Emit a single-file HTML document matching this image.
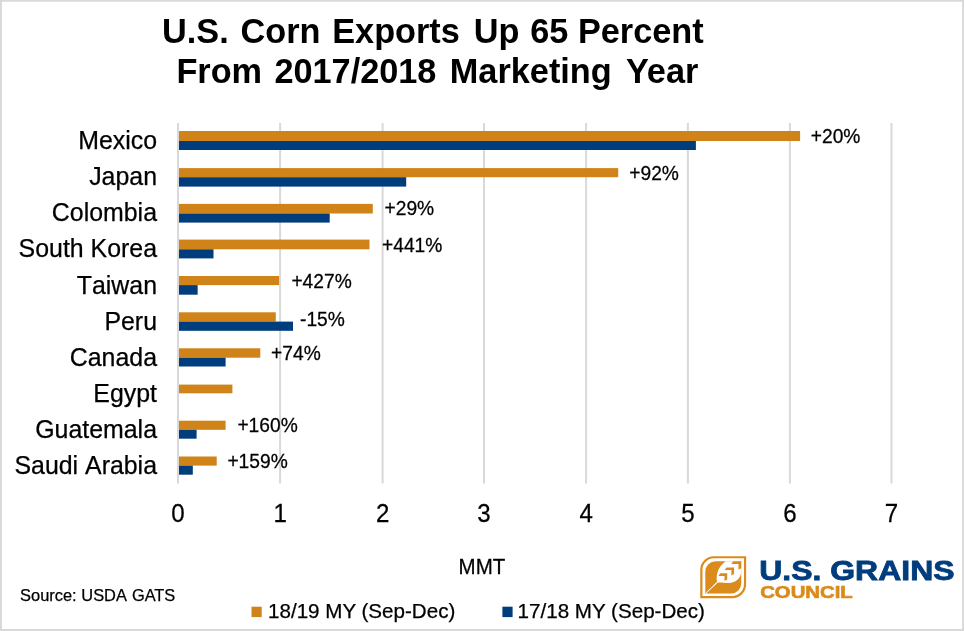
<!DOCTYPE html>
<html lang="en"><head><meta charset="utf-8"><title>U.S. Corn Exports Up 65 Percent</title>
<style>html,body{margin:0;padding:0;background:#fff}body{width:964px;height:631px;overflow:hidden}svg{display:block}text{font-family:"Liberation Sans",Arial,sans-serif;fill:#000}.nk text{font-kerning:none}.r text,text.r{stroke:#000;stroke-width:.25px}</style>
</head><body>
<svg width="964" height="631" viewBox="0 0 964 631">
<rect x="0" y="0" width="964" height="631" fill="#fff"/>
<path d="M0 0H964V631H0Z M1.9 1.7V628.9H962.1V1.7Z" fill="#D9D9D9" fill-rule="evenodd"/>
<g font-weight="bold" font-size="34.3px" transform="scale(1 1.03)">
<text y="41.75"><tspan x="162.00">U.S. </tspan><tspan x="240.50">Corn </tspan><tspan x="332.20">Exports </tspan><tspan x="473.70">Up </tspan><tspan x="530.20">65 </tspan><tspan x="577.90">Percent </tspan></text>
<text y="80.5"><tspan x="176.40">From </tspan><tspan x="274.40">2017/2018 </tspan><tspan x="449.80">Marketing </tspan><tspan x="625.90">Year </tspan></text>
</g>
<g stroke="#D9D9D9" stroke-width="2">
<line x1="178.00" y1="123" x2="178.00" y2="483.5"/>
<line x1="280.10" y1="123" x2="280.10" y2="483.5"/>
<line x1="382.60" y1="123" x2="382.60" y2="483.5"/>
<line x1="484.00" y1="123" x2="484.00" y2="483.5"/>
<line x1="586.10" y1="123" x2="586.10" y2="483.5"/>
<line x1="687.90" y1="123" x2="687.90" y2="483.5"/>
<line x1="789.90" y1="123" x2="789.90" y2="483.5"/>
<line x1="891.50" y1="123" x2="891.50" y2="483.5"/>
</g>
<g>
<rect x="179" y="131.00" width="621.10" height="10.00" fill="#D08318"/>
<rect x="179" y="141.00" width="516.90" height="9.00" fill="#003D7D"/>
<rect x="179" y="168.10" width="439.20" height="9.10" fill="#D08318"/>
<rect x="179" y="177.20" width="227.20" height="9.40" fill="#003D7D"/>
<rect x="179" y="203.90" width="193.80" height="9.60" fill="#D08318"/>
<rect x="179" y="213.50" width="150.70" height="9.10" fill="#003D7D"/>
<rect x="179" y="239.60" width="190.50" height="9.70" fill="#D08318"/>
<rect x="179" y="249.30" width="34.50" height="9.10" fill="#003D7D"/>
<rect x="179" y="276.00" width="100.10" height="9.10" fill="#D08318"/>
<rect x="179" y="285.10" width="18.65" height="9.60" fill="#003D7D"/>
<rect x="179" y="312.30" width="96.80" height="9.30" fill="#D08318"/>
<rect x="179" y="321.60" width="114.00" height="9.20" fill="#003D7D"/>
<rect x="179" y="348.30" width="81.30" height="9.40" fill="#D08318"/>
<rect x="179" y="357.70" width="46.60" height="8.80" fill="#003D7D"/>
<rect x="179" y="384.60" width="53.40" height="8.70" fill="#D08318"/>
<rect x="179" y="420.70" width="46.60" height="9.10" fill="#D08318"/>
<rect x="179" y="429.80" width="17.60" height="8.90" fill="#003D7D"/>
<rect x="179" y="456.50" width="37.70" height="9.10" fill="#D08318"/>
<rect x="179" y="465.60" width="13.80" height="9.10" fill="#003D7D"/>
</g>
<g class="nk r" font-size="24.9px" text-anchor="end">
<text x="157.0" y="149.20">Mexico</text>
<text x="157.0" y="185.28">Japan</text>
<text x="157.0" y="221.36">Colombia</text>
<text x="157.0" y="257.44">South Korea</text>
<text x="157.0" y="293.52">Taiwan</text>
<text x="157.0" y="329.60">Peru</text>
<text x="157.0" y="365.68">Canada</text>
<text x="157.0" y="401.76">Egypt</text>
<text x="157.0" y="437.84">Guatemala</text>
<text x="157.0" y="473.92">Saudi Arabia</text>
</g>
<g class="nk r" font-size="19.2px">
<text transform="translate(810.80 142.90) scale(1 1.04)">+20%</text>
<text transform="translate(629.30 179.50) scale(1 1.04)">+92%</text>
<text transform="translate(384.50 215.30) scale(1 1.04)">+29%</text>
<text transform="translate(382.00 251.50) scale(1 1.04)">+441%</text>
<text transform="translate(291.40 287.90) scale(1 1.04)">+427%</text>
<text transform="translate(300.00 326.30) scale(1 1.04)">-15%</text>
<text transform="translate(271.10 360.10) scale(1 1.04)">+74%</text>
<text transform="translate(237.40 432.00) scale(1 1.04)">+160%</text>
<text transform="translate(227.40 467.90) scale(1 1.04)">+159%</text>
</g>
<g class="nk r" font-size="24.1px" text-anchor="middle">
<text transform="translate(178.00 521.9) scale(1 1.035)">0</text>
<text transform="translate(280.10 521.9) scale(1 1.035)">1</text>
<text transform="translate(382.60 521.9) scale(1 1.035)">2</text>
<text transform="translate(484.00 521.9) scale(1 1.035)">3</text>
<text transform="translate(586.10 521.9) scale(1 1.035)">4</text>
<text transform="translate(687.90 521.9) scale(1 1.035)">5</text>
<text transform="translate(789.90 521.9) scale(1 1.035)">6</text>
<text transform="translate(891.50 521.9) scale(1 1.035)">7</text>
</g>
<text class="r" transform="translate(481.9 574.1) scale(1 1.045)" font-size="20.5px" text-anchor="middle">MMT</text>
<text class="r" y="601" font-size="16.4px"><tspan x="20.1">Source: </tspan><tspan x="81.3">USDA </tspan><tspan x="131.9">GATS</tspan></text>
<rect x="251.5" y="606.7" width="10.2" height="10.4" fill="#D08318"/>
<text class="r" x="268.0" y="618.1" font-size="20.6px">18/19 MY (Sep-Dec)</text>
<rect x="502.4" y="606.7" width="10.2" height="10.4" fill="#003D7D"/>
<text class="r" x="517.6" y="618.1" font-size="20.6px">17/18 MY (Sep-Dec)</text>
<g id="logo">
<path d="M713.85 557.25 H745.05 V584.35 A12.8 12.8 0 0 1 732.25 597.15 H701.35 V569.75 A12.5 12.5 0 0 1 713.85 557.25 Z" fill="none" stroke="#DB8B1B" stroke-width="2.2"/>
<path d="M715.8 561.2 H741.2 V583.8 A9.6 9.6 0 0 1 731.6 593.4 H705.3 V571.7 A10.5 10.5 0 0 1 715.8 561.2 Z" fill="#DB8B1B"/>
<path d="M705.3 593.2 L717.0 581.7 C715.8 575 718 566.5 725.7 561.2 L741.2 561.2 L741.2 572.7 C740.5 577.5 736.5 582.5 729.8 582.9 C725 583.1 721 582.2 717.9 582.5 L706.1 593.4 Z" fill="#fff"/>
<path d="M718.40 576.00 L720.20 573.30 H727.20 V579.40 L724.50 581.00 V576.00 Z M724.70 570.10 L726.50 567.40 H734.10 V574.00 L731.40 575.60 V570.10 Z M731.30 563.90 L733.10 561.20 H741.20 V568.20 L738.50 569.80 V563.90 Z" fill="#DB8B1B"/>
<text x="759.3" y="579.7" font-size="26.8px" font-weight="bold" style="fill:#003D7D;stroke:#003D7D;stroke-width:0.8px" textLength="195.2" lengthAdjust="spacingAndGlyphs">U.S. GRAINS</text>
<text x="760.2" y="597.8" font-size="16.4px" font-weight="bold" style="fill:#DB8B1B;stroke:#DB8B1B;stroke-width:0.6px" textLength="92.6" lengthAdjust="spacingAndGlyphs">COUNCIL</text>
</g>
</svg></body></html>
